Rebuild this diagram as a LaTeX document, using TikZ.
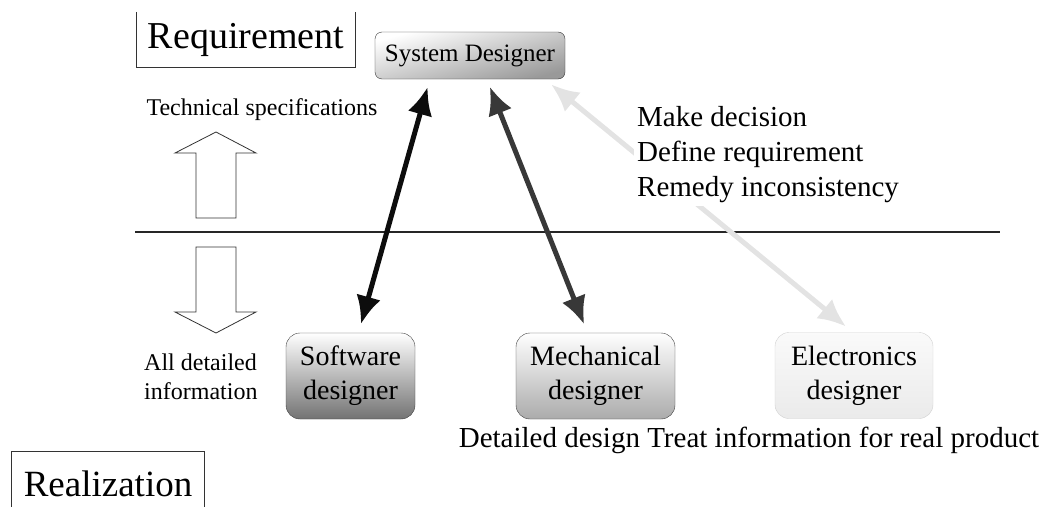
\documentclass[tikz,border=0pt]{standalone}
\usepackage{fontspec}
\setmainfont{Liberation Serif}
\usetikzlibrary{arrows.meta}

\tikzset{
  designer/.style={draw=black!75, rounded corners=14pt, minimum height=86pt, inner sep=0pt,
    align=center, font=\fontsize{28}{34}\selectfont, shading angle=20},
  link/.style={line width=5pt, {Latex[length=28pt,width=25pt]}-{Latex[length=28pt,width=25pt]},
    shorten <=9pt, shorten >=8pt},
  hollow/.style={draw=black!80, line width=0.8pt, fill=white},
  label/.style={inner sep=0pt}
}

\begin{document}
\begin{tikzpicture}[x=1pt, y=-1pt]
  % Cornice della figura
  \useasboundingbox (0,0) rectangle (1046,506);

  % Titoli dei due livelli (scatola aperta)
  \node[minimum width=218pt, minimum height=55pt, inner sep=0pt, font=\fontsize{38}{46}\selectfont]
    (req) at (246,39.5) {Requirement};
  \draw[black!80, line width=0.8pt] (req.north west) -- (req.south west) -- (req.south east) -- (req.north east);
  \node[minimum width=192pt, minimum height=58pt, inner sep=0pt, font=\fontsize{37}{44}\selectfont]
    (real) at (108,484) {Realization};
  \draw[black!80, line width=0.8pt] ([yshift=-20pt]real.south west) -- ([yshift=3pt]real.north west)
    -- ([yshift=3pt]real.north east) -- ([yshift=-20pt]real.south east);

  % Linea di separazione
  \draw[black!85, line width=1.2pt] (135,232) -- (1000,232);

  % Frecce vuote (su e giu)
  \draw[hollow] (216,132) -- (256,153) -- (236,153) -- (236,218) -- (196,218) -- (196,153) -- (175,153) -- cycle;
  \draw[hollow] (216,333) -- (256,312) -- (236,312) -- (236,247) -- (196,247) -- (196,312) -- (175,312) -- cycle;

  % Etichette a sinistra
  \node[label, font=\fontsize{24}{29}\selectfont] (spec) at (262,110) {Technical specifications};
  \node[label, anchor=west, align=left, font=\fontsize{24}{29}\selectfont] (info) at (144,377) {All detailed\\information};

  % Progettisti
  \node[draw=black!80, rounded corners=7pt, minimum width=190pt, minimum height=47pt, inner sep=0pt,
    top color=white, bottom color=black!40, shading angle=15, font=\fontsize{25}{30}\selectfont]
    (sys) at (470,55.5) {System Designer};
  \node[designer, minimum width=129pt, top color=white, bottom color=black!55] (soft) at (350.5,376) {Software\\designer};
  \node[designer, minimum width=159pt, top color=white, bottom color=black!33] (mech) at (595.5,376) {Mechanical\\designer};
  \node[designer, minimum width=158pt, draw=black!18, top color=black!2, bottom color=black!8] (elec) at (854,375.5) {Electronics\\designer};

  % Frecce doppie tra i progettisti
  \draw[link, black!95] ([xshift=8pt]soft.north) -- ([xshift=55pt]sys.south west);
  \draw[link, black!78] ([xshift=-8pt]mech.north) -- ([xshift=112pt]sys.south west);
  \draw[link, black!11] ([xshift=-1pt]elec.north) -- ([xshift=170pt]sys.south west);

  % Compiti del progettista di sistema (sopra la freccia chiara)
  \node[label, anchor=west, align=left, fill=white, inner sep=3pt, font=\fontsize{29}{35}\selectfont]
    (task) at (634,155) {Make decision\\Define requirement\\Remedy inconsistency};
  \node[label, font=\fontsize{29}{35}\selectfont] (detail) at (749,440) {Detailed design Treat information for real product};
\end{tikzpicture}
\end{document}
